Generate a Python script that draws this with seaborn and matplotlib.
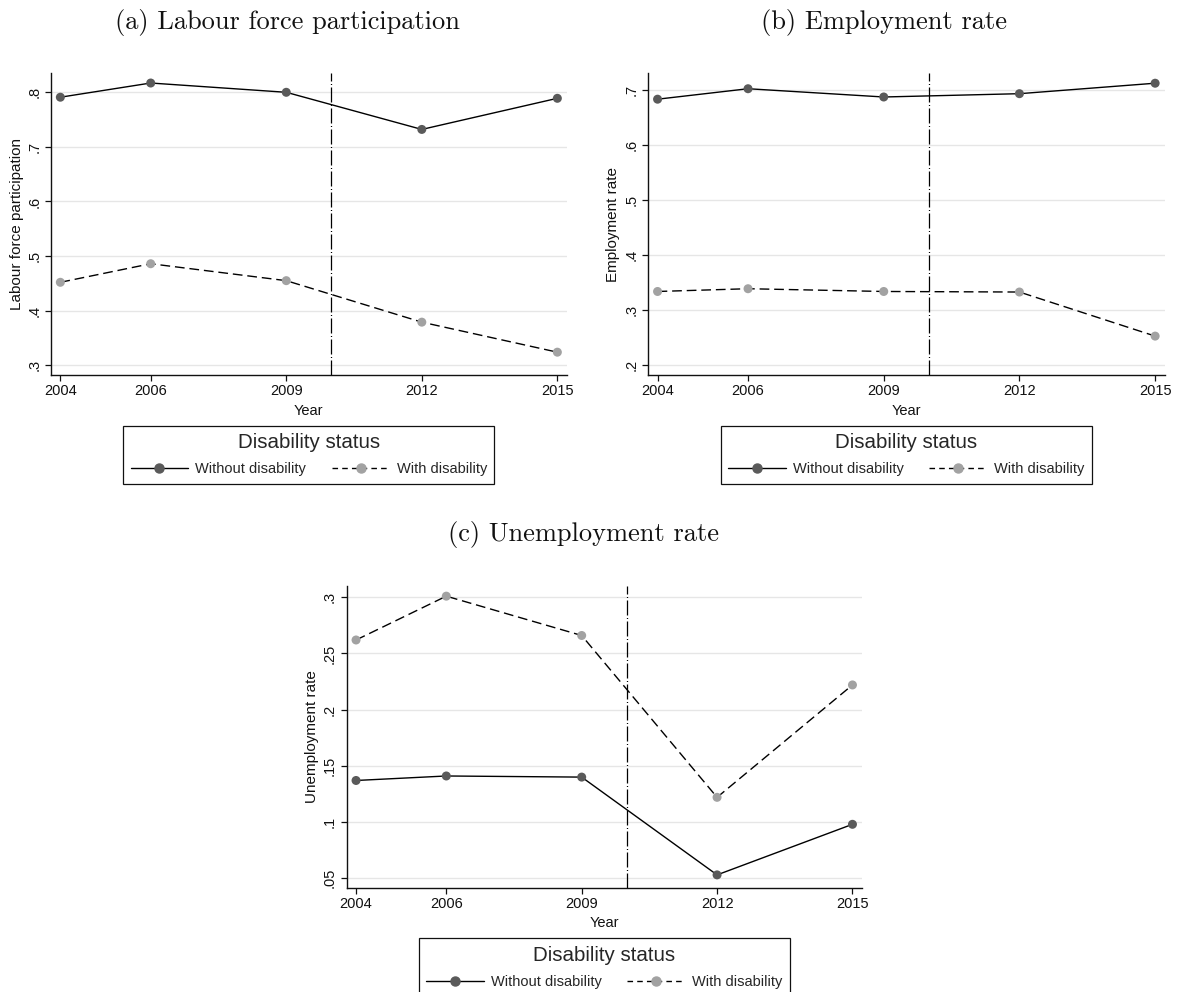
import matplotlib
matplotlib.use("Agg")
import matplotlib.pyplot as plt
from matplotlib.lines import Line2D
from matplotlib.ticker import FuncFormatter
import seaborn as sns
import pandas as pd

# ---- data ----
years = [2004, 2006, 2009, 2012, 2015]
status_labels = ["Without disability", "With disability"]
lfp_without = [0.791, 0.817, 0.800, 0.732, 0.789]
lfp_with = [0.452, 0.486, 0.455, 0.379, 0.324]
emp_without = [0.683, 0.702, 0.687, 0.693, 0.712]
emp_with = [0.334, 0.339, 0.334, 0.333, 0.253]
unemp_without = [0.137, 0.141, 0.140, 0.053, 0.098]
unemp_with = [0.262, 0.301, 0.266, 0.122, 0.222]
reform_year = 2010
panel_titles = ["(a) Labour force participation", "(b) Employment rate", "(c) Unemployment rate"]
y_labels = ["Labour force participation", "Employment rate", "Unemployment rate"]
x_label = "Year"
legend_title = "Disability status"
yticks_a = [0.3, 0.4, 0.5, 0.6, 0.7, 0.8]
yticks_b = [0.2, 0.3, 0.4, 0.5, 0.6, 0.7]
yticks_c = [0.05, 0.10, 0.15, 0.20, 0.25, 0.30]

sns.set_theme(style="white")
plt.rcParams["font.family"] = ["Liberation Sans", "DejaVu Sans"]

W, H = 1178, 992
fig = plt.figure(figsize=(W / 100, H / 100), dpi=100)

def fr(left, right, top, bottom):
    return [left / W, 1 - bottom / H, (right - left) / W, (bottom - top) / H]

dark = "#5a5a5a"
light = "#a2a2a2"
dash_pat = (7, 3.5)
xlim = (2003.793, 2015.207)

panels = [
    dict(rect=fr(51, 566.7, 73.3, 375), ylim=(0.2822, 0.8348),
         yt=yticks_a, a=lfp_without, b=lfp_with, title_xy=(287, 23), leg_top=426, ylab_x=17),
    dict(rect=fr(648.2, 1164.5, 73.3, 375), ylim=(0.1824, 0.730),
         yt=yticks_b, a=emp_without, b=emp_with, title_xy=(884, 23), leg_top=426, ylab_x=613.3),
    dict(rect=fr(346.7, 861.8, 585.7, 887.7), ylim=(0.0416, 0.3103),
         yt=yticks_c, a=unemp_without, b=unemp_with, title_xy=(583, 535), leg_top=938.3, ylab_x=311.5),
]

fmt = FuncFormatter(lambda v, p: ("%g" % round(v, 4)).lstrip("0"))

for i, p in enumerate(panels):
    ax = fig.add_axes(p["rect"])
    df = pd.DataFrame({
        "Year": years * 2,
        "value": p["a"] + p["b"],
        "status": [status_labels[0]] * len(years) + [status_labels[1]] * len(years),
    })
    ax.set_xlim(*xlim)
    ax.set_ylim(*p["ylim"])
    ax.set_yticks(p["yt"])
    ax.set_xticks(years)
    ax.yaxis.set_major_formatter(fmt)
    ax.grid(axis="y", color="#e6e6e6", lw=1.0, zorder=0)
    ax.grid(axis="x", visible=False)
    ax.axvline(reform_year, color="black", lw=0.9, dashes=(12, 2, 0.8, 2), zorder=1)
    sns.lineplot(data=df, x="Year", y="value", style="status",
                 style_order=status_labels, dashes={status_labels[0]: "", status_labels[1]: dash_pat},
                 color="black", lw=1.0, legend=False, ax=ax, zorder=2)
    sns.scatterplot(data=df, x="Year", y="value", hue="status", hue_order=status_labels,
                    palette=[dark, light], s=42, edgecolor="none", legend=False, ax=ax, zorder=3)
    for s in ["top", "right"]:
        ax.spines[s].set_visible(False)
    for s in ["left", "bottom"]:
        ax.spines[s].set_color("#111111")
        ax.spines[s].set_linewidth(1.0)
    ax.tick_params(axis="both", which="major", direction="out", length=4, width=0.9,
                   color="#111111", labelsize=10.5, left=True, bottom=True, labelcolor="#111111")
    ax.tick_params(axis="x", pad=2.5)
    ax.tick_params(axis="y", pad=3, labelrotation=90)
    for lab in ax.get_yticklabels():
        lab.set_va("center")
    ax.set_xlabel(x_label, fontsize=10.5, labelpad=4, color="#111111")
    ax.set_ylabel("")
    rect = p["rect"]
    yc = rect[1] + rect[3] / 2
    fig.text(p["ylab_x"] / W, yc, y_labels[i], rotation=90, ha="center", va="center",
             fontsize=11, color="#111111")
    fig.text(p["title_xy"][0] / W, 1 - p["title_xy"][1] / H, panel_titles[i],
             ha="center", va="center", fontsize=19, family="cmr10", color="#111111")
    handles = [
        Line2D([], [], color="black", lw=1.0, marker="o", markersize=6.5,
               markerfacecolor=dark, markeredgecolor=dark),
        Line2D([], [], color="black", lw=1.0, marker="o", markersize=6.5, dashes=(4, 3),
               markerfacecolor=light, markeredgecolor=light),
    ]
    cx = (rect[0] + rect[2] / 2)
    leg = fig.legend(handles, status_labels, title=legend_title, loc="upper center",
                     bbox_to_anchor=(cx, 1 - p["leg_top"] / H), bbox_transform=fig.transFigure,
                     ncol=2, fontsize=10.5, title_fontsize=14.8, frameon=True, fancybox=False,
                     edgecolor="#111111", framealpha=1, handlelength=3.95, handletextpad=0.5,
                     columnspacing=1.75, borderpad=0.5, labelspacing=0.7, borderaxespad=0)
    leg.get_frame().set_linewidth(0.9)

fig.savefig("out.png", dpi=100)
